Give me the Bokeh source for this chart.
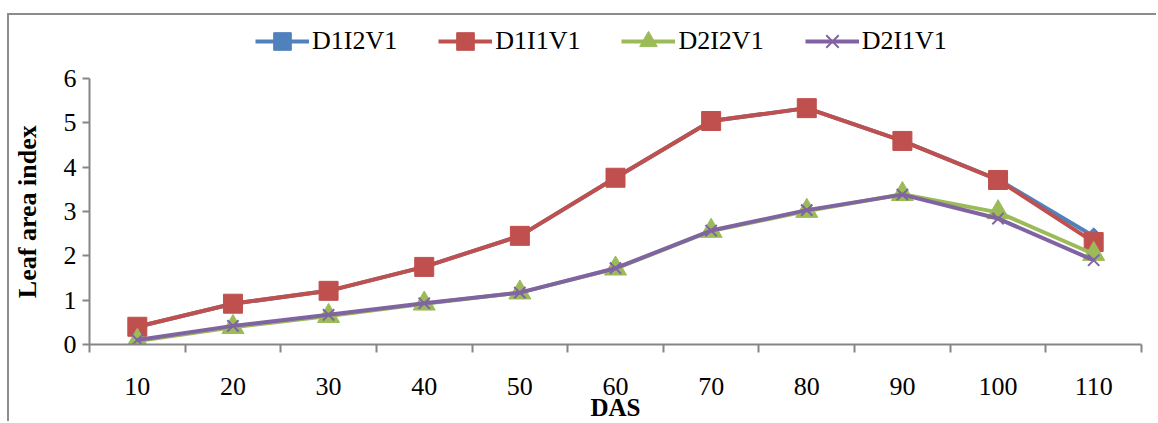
import math
from bokeh.plotting import figure
from bokeh.models import Range1d, FixedTicker, Legend, LegendItem
from bokeh.embed import file_html
from bokeh.resources import INLINE

das = [10, 20, 30, 40, 50, 60, 70, 80, 90, 100, 110]
tick_bounds = [5, 15, 25, 35, 45, 55, 65, 75, 85, 95, 105, 115]
d1i2v1 = [0.40, 0.92, 1.21, 1.75, 2.45, 3.76, 5.04, 5.33, 4.59, 3.72, 2.44]
d1i1v1 = [0.40, 0.92, 1.21, 1.75, 2.45, 3.76, 5.04, 5.33, 4.59, 3.71, 2.31]
d2i2v1 = [0.08, 0.39, 0.64, 0.92, 1.17, 1.71, 2.56, 3.01, 3.39, 2.98, 2.04]
d2i1v1 = [0.10, 0.42, 0.67, 0.93, 1.17, 1.72, 2.57, 3.03, 3.38, 2.84, 1.90]
y_ticks = [0, 1, 2, 3, 4, 5, 6]

FONT = "Liberation Serif"
AX = "#868686"

p = figure(width=1149, height=408, min_border_left=79, min_border_right=17,
           min_border_top=5, min_border_bottom=73,
           x_range=Range1d(5, 115), y_range=Range1d(0, 7.306),
           output_backend="svg", toolbar_location=None)
p.outline_line_color = None
p.grid.grid_line_color = None
p.background_fill_color = "white"
p.border_fill_color = "white"
p.styles = {"margin-left": "7px", "margin-top": "13px",
            "border-left": "2px solid #8C8C8C",
            "border-top": "2px solid #8C8C8C"}

xa = p.xaxis[0]
xa.ticker = FixedTicker(ticks=das, minor_ticks=tick_bounds)
xa.major_tick_out = 0
xa.major_tick_in = 0
xa.minor_tick_out = 8
xa.minor_tick_in = 0
xa.minor_tick_line_color = AX
xa.minor_tick_line_width = 2
xa.axis_line_color = AX
xa.axis_line_width = 2
xa.major_label_text_font = FONT
xa.major_label_text_font_size = "26px"
xa.major_label_text_color = "black"
xa.major_label_standoff = 25
xa.axis_label = "DAS"
xa.axis_label_text_font = FONT
xa.axis_label_text_font_style = "bold"
xa.axis_label_text_font_size = "25px"
xa.axis_label_text_color = "black"
xa.axis_label_standoff = -4

ya = p.yaxis[0]
ya.ticker = FixedTicker(ticks=y_ticks)
ya.bounds = (0, 6)
ya.minor_tick_line_color = None
ya.major_tick_out = 7
ya.major_tick_in = 0
ya.major_tick_line_color = AX
ya.major_tick_line_width = 2
ya.axis_line_color = AX
ya.axis_line_width = 2
ya.major_label_text_font = FONT
ya.major_label_text_font_size = "26px"
ya.major_label_text_color = "black"
ya.major_label_standoff = 6
ya.axis_label = "Leaf area index" + "\u00a0" * 9
ya.axis_label_text_font = FONT
ya.axis_label_text_font_style = "bold"
ya.axis_label_text_font_size = "26px"
ya.axis_label_text_color = "black"
ya.axis_label_standoff = 19

series = [
    ("D1I2V1", d1i2v1, "#4F81BD"),
    ("D1I1V1", d1i1v1, "#C0504D"),
    ("D2I2V1", d2i2v1, "#9BBB59"),
    ("D2I1V1", d2i1v1, "#8064A2"),
]
items = []
for name, ys, col in series:
    ln = p.line(das, ys, line_color=col, line_width=4)
    if name == "D1I2V1":
        mk = p.scatter(das, ys, marker="square", angle=math.pi / 4, size=12,
                       fill_color=col, line_color=col)
    elif name == "D1I1V1":
        mk = p.scatter(das, ys, marker="square", size=19, fill_color=col, line_color=col)
    elif name == "D2I2V1":
        mk = p.scatter(das, ys, marker="triangle", size=22, fill_color=col, line_color=col)
    else:
        mk = p.scatter(das, ys, marker="x", size=16, line_color=col, line_width=2)
    items.append(LegendItem(label=name, renderers=[ln, mk]))

legend = Legend(items=items, orientation="horizontal", location=(166, 281),
                label_text_font=FONT, label_text_font_size="26px", label_text_color="black",
                glyph_width=54, glyph_height=44, label_standoff=3, spacing=41,
                padding=0, margin=0, border_line_color=None, background_fill_alpha=0)
p.add_layout(legend, "center")

open("out.html", "w").write(file_html(p, INLINE))
